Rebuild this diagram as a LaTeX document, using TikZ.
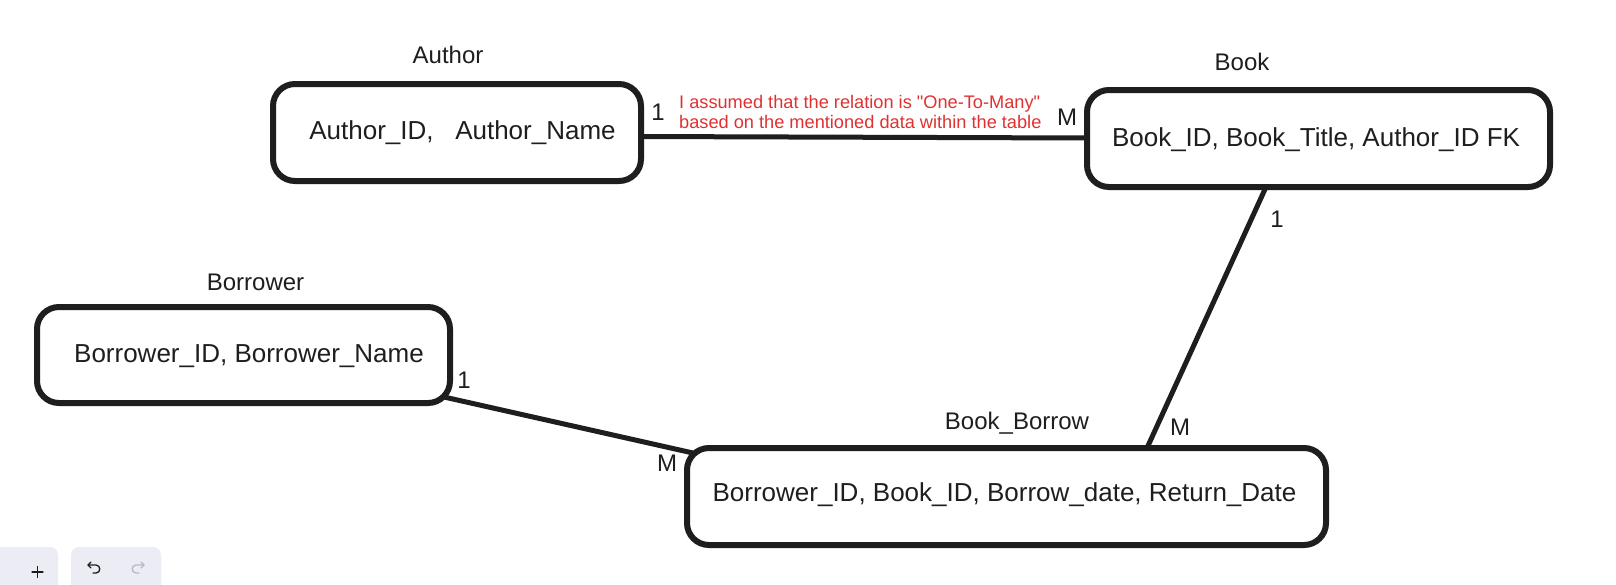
\documentclass[tikz,border=0pt]{standalone}
\usepackage{fontspec}
\setmainfont{Liberation Sans}[Ligatures=TeXOff]
\definecolor{ink}{HTML}{1E1E1E}
\definecolor{notered}{HTML}{E03131}
\definecolor{btnbg}{HTML}{ECECF4}
\definecolor{iconink}{HTML}{1B1B1F}
\definecolor{icondis}{HTML}{B8B8C0}
\tikzset{
  entity/.style={draw=ink, line width=6pt, rounded corners=22pt, inner sep=0pt, outer sep=0pt},
  ttl/.style={font=\fontsize{24}{28}\selectfont, text=ink, anchor=base, inner sep=0pt},
  body/.style={font=\fontsize{26}{30}\selectfont, text=ink, anchor=base, inner sep=0pt},
  card/.style={font=\fontsize{24}{28}\selectfont, text=ink, anchor=base, inner sep=0pt},
  note/.style={font=\fontsize{18.2}{20}\selectfont, text=notered, anchor=base west, inner sep=0pt},
  rel/.style={draw=ink, line width=5pt, line cap=round},
  btn/.style={fill=btnbg, rounded corners=8pt},
  ico/.style={draw=iconink, line width=1.3pt, line cap=round, line join=round},
  icodis/.style={draw=icondis, line width=1.3pt, line cap=round, line join=round}
}
\begin{document}
\begin{tikzpicture}[x=1pt,y=-1pt]
\useasboundingbox[fill=white] (0,0) rectangle (1616,584);

% entities
\node[entity, minimum width=368pt, minimum height=97pt] (author) at (457,132.5) {};
\node[entity, minimum width=463pt, minimum height=97pt] (book) at (1318.5,138.5) {};
\node[entity, minimum width=413pt, minimum height=96pt] (borrower) at (243.5,355) {};
\node[entity, minimum width=639pt, minimum height=97pt] (bookborrow) at (1006.5,496.5) {};

% titles
\node[ttl] (authorttl) at (448,63) {Author};
\node[ttl] (bookttl) at (1242,70) {Book};
\node[ttl] (borrowerttl) at (255.5,290) {Borrower};
\node[ttl] (bookborrowttl) at (1017,429) {Book\_Borrow};

% attributes
\node[body] (authorattrs) at (462.5,139) {Author\_ID,\ \ \ Author\_Name};
\node[body] (bookattrs) at (1316,146) {Book\_ID, Book\_Title, Author\_ID FK};
\node[body] (borrowerattrs) at (249,362) {Borrower\_ID, Borrower\_Name};
\node[body] (bookborrowattrs) at (1004.5,501) {Borrower\_ID, Book\_ID, Borrow\_date, Return\_Date};

% connectors
\draw[rel] ([yshift=-4pt]author.east) -- ([yshift=0.5pt]book.west);
\draw[rel] ([xshift=-52.5pt]book.south) -- ([xshift=140.5pt]bookborrow.north);
\draw[rel] ([xshift=-6pt,yshift=6pt]borrower.south east) -- ([xshift=6pt,yshift=-5pt]bookborrow.north west);

% cardinalities
\node[card] (c1) at (658,120.5) {1};
\node[card] (c2) at (1067,125.5) {M};
\node[card] (c3) at (1277,227) {1};
\node[card] (c4) at (1180,435) {M};
\node[card] (c5) at (464,388) {1};
\node[card] (c6) at (667,471) {M};

% note
\node[note] (note1) at (679,108.5) {I assumed that the relation is "One-To-Many"};
\node[note] (note2) at (679,128.5) {based on the mentioned data within the table};

% toolbar
\fill[btn] (-20,547) rectangle (58,610);
\fill[btn] (71,547) rectangle (161,610);
\draw[ico] (32,572) -- (43,572);
\draw[ico] (37.5,566.5) -- (37.5,577.5);
\draw[ico] (91,562) -- (88,565) -- (91,568);
\draw[ico] (88,565) -- (96,565) .. controls (101,565) and (101,573) .. (96,573) -- (93,573);
\draw[icodis] (141,562) -- (144,565) -- (141,568);
\draw[icodis] (144,565) -- (136,565) .. controls (131,565) and (131,573) .. (136,573) -- (139,573);
\end{tikzpicture}
\end{document}
